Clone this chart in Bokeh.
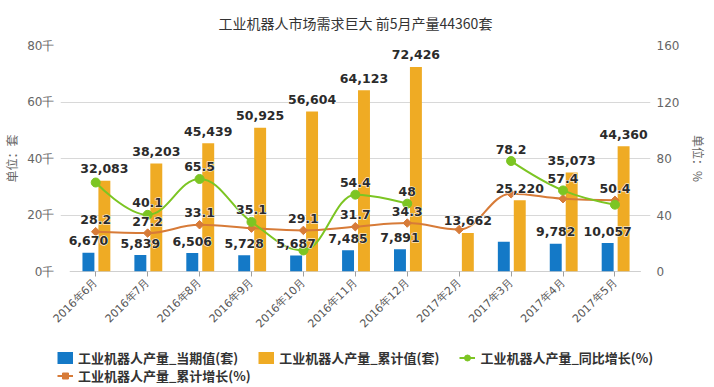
import math
from bokeh.plotting import figure
from bokeh.models import (Range1d, LinearAxis, FixedTicker, ColumnDataSource,
                          Legend, LegendItem)
from bokeh.core.properties import value
from bokeh.embed import file_html
from bokeh.resources import INLINE

# ---------------- data ----------------
months = ["2016年6月", "2016年7月", "2016年8月", "2016年9月", "2016年10月",
          "2016年11月", "2016年12月", "2017年2月", "2017年3月", "2017年4月", "2017年5月"]
current = [6670, 5839, 6506, 5728, 5687, 7485, 7891, None, 10500, 9782, 10057]
cumulative = [32083, 38203, 45439, 50925, 56604, 64123, 72426, 13662, 25220, 35073, 44360]
yoy = [63.0, 40.1, 65.5, 35.1, 14.9, 54.4, 48.0, None, 78.2, 57.4, 47.3]
cum_growth = [28.2, 27.2, 33.1, 30.7, 29.1, 31.7, 34.3, 29.7, 55.0, 51.5, 50.4]
# data labels that are visible in the original (others hidden by overlap)
show_current = [1, 1, 1, 1, 1, 1, 1, 0, 0, 1, 1]
show_cumulative = [1, 1, 1, 1, 1, 1, 1, 1, 1, 1, 1]
show_yoy = [0, 1, 1, 1, 0, 1, 1, 0, 1, 1, 0]
show_cum_growth = [1, 1, 1, 0, 1, 1, 1, 0, 0, 0, 1]

left_ticks = [0, 20000, 40000, 60000, 80000]
left_tick_labels = ["0千", "20千", "40千", "60千", "80千"]
right_ticks = [0, 40, 80, 120, 160]

names = ["工业机器人产量_当期值(套)", "工业机器人产量_累计值(套)",
         "工业机器人产量_同比增长(%)", "工业机器人产量_累计增长(%)"]

BLUE = "#1479c7"
GOLD = "#efab24"
GREEN = "#7cc523"
ORANGE = "#d77b38"
LABEL_FONT = value("DejaVu Sans")
CJK = "Noto Sans CJK SC"

n = len(months)
xs = list(range(n))
off_blue, off_gold, bar_w = -0.14, 0.167, 0.23

W = 710
p = figure(width=W, height=343, output_backend="svg", toolbar_location=None,
           x_range=Range1d(-0.678, 10.685), y_range=Range1d(0, 80000),
           title="工业机器人市场需求巨大 前5月产量44360套")
p.min_border_left = 58
p.min_border_right = 60
p.min_border_top = 45
p.min_border_bottom = 72
p.outline_line_color = None
p.extra_y_ranges = {"pct": Range1d(0, 160)}

p.title.align = "center"
p.title.vertical_align = "top"
p.title.text_font = CJK
p.title.text_font_size = "14px"
p.title.text_font_style = "normal"
p.title.text_color = "#333333"
p.title.standoff = 22

# x axis
xa = p.xaxis[0]
xa.ticker = FixedTicker(ticks=xs)
xa.major_label_overrides = {i: m for i, m in enumerate(months)}
xa.major_label_orientation = math.pi / 4
xa.major_label_text_font = "DejaVu Sans"
xa.major_label_text_font_size = "11px"
xa.major_label_text_color = "#555555"
xa.axis_line_color = None
xa.major_tick_in = 0
xa.major_tick_out = 5
xa.major_tick_line_color = "#a0a0a0"
xa.minor_tick_line_color = None
xa.major_label_standoff = 4
p.xgrid.visible = False

# left axis
ya = p.yaxis[0]
ya.ticker = FixedTicker(ticks=left_ticks)
ya.major_label_overrides = {t: l for t, l in zip(left_ticks, left_tick_labels)}
ya.axis_line_color = None
ya.major_tick_line_color = None
ya.minor_tick_line_color = None
ya.major_tick_out = 0
ya.major_tick_in = 0
ya.major_label_text_font = "DejaVu Sans"
ya.major_label_text_font_size = "12px"
ya.major_label_text_color = "#666666"
ya.major_label_standoff = 6
ya.axis_label = "单位：套"
ya.axis_label_text_font = CJK
ya.axis_label_text_font_size = "12px"
ya.axis_label_text_font_style = "normal"
ya.axis_label_text_color = "#666666"
ya.axis_label_standoff = 4
p.ygrid.ticker = FixedTicker(ticks=left_ticks)
p.ygrid.grid_line_color = "#d8d8d8"

# right axis
ra = LinearAxis(y_range_name="pct", ticker=FixedTicker(ticks=right_ticks))
ra.axis_line_color = None
ra.major_tick_line_color = None
ra.minor_tick_line_color = None
ra.major_tick_out = 0
ra.major_tick_in = 0
ra.major_label_text_font = "DejaVu Sans"
ra.major_label_text_font_size = "12px"
ra.major_label_text_color = "#666666"
ra.major_label_standoff = 6
ra.axis_label = "单位：%"
ra.axis_label_text_font = CJK
ra.axis_label_text_font_size = "12px"
ra.axis_label_text_font_style = "normal"
ra.axis_label_text_color = "#666666"
ra.axis_label_standoff = 8
p.add_layout(ra, "right")

# x-axis baseline over the category span
p.segment(x0=[xs[0] - 0.5], y0=[0], x1=[xs[-1] + 0.5], y1=[0],
          line_color="#a0a0a0", line_width=1)

# bars
cur_x = [x + off_blue for x, v in zip(xs, current) if v is not None]
cur_v = [v for v in current if v is not None]
p.vbar(x=cur_x, top=cur_v, width=bar_w, bottom=0, fill_color=BLUE, line_color=None)
gold_x = [x + off_gold for x in xs]
p.vbar(x=gold_x, top=cumulative, width=bar_w, bottom=0, fill_color=GOLD, line_color=None)


def spline(xv, yv, smoothing=1.5):
    runs, run = [], []
    for x, y in zip(xv, yv):
        if y is None:
            if run:
                runs.append(run)
            run = []
        else:
            run.append((x, y))
    if run:
        runs.append(run)
    out = dict(x0=[], y0=[], x1=[], y1=[], cx0=[], cy0=[], cx1=[], cy1=[])
    d = smoothing + 1
    for run in runs:
        m = len(run)
        lc, rc = [None] * m, [None] * m
        for i, (px, py) in enumerate(run):
            if 0 < i < m - 1:
                lx, ly = run[i - 1]
                nx, ny = run[i + 1]
                lcx, lcy = (smoothing * px + lx) / d, (smoothing * py + ly) / d
                rcx, rcy = (smoothing * px + nx) / d, (smoothing * py + ny) / d
                if rcx != lcx:
                    corr = (rcy - lcy) * (rcx - px) / (rcx - lcx) + py - rcy
                    lcy += corr
                    rcy += corr
                if lcy > ly and lcy > py:
                    lcy = max(ly, py); rcy = 2 * py - lcy
                elif lcy < ly and lcy < py:
                    lcy = min(ly, py); rcy = 2 * py - lcy
                if rcy > ny and rcy > py:
                    rcy = max(ny, py); lcy = 2 * py - rcy
                elif rcy < ny and rcy < py:
                    rcy = min(ny, py); lcy = 2 * py - rcy
                lc[i], rc[i] = (lcx, lcy), (rcx, rcy)
            else:
                lc[i], rc[i] = (px, py), (px, py)
        for i in range(1, m):
            out["x0"].append(run[i - 1][0]); out["y0"].append(run[i - 1][1])
            out["x1"].append(run[i][0]); out["y1"].append(run[i][1])
            out["cx0"].append(rc[i - 1][0]); out["cy0"].append(rc[i - 1][1])
            out["cx1"].append(lc[i][0]); out["cy1"].append(lc[i][1])
    return out


# cumulative growth (orange spline, diamonds)
p.bezier(source=ColumnDataSource(spline(xs, cum_growth)), x0="x0", y0="y0", x1="x1", y1="y1",
         cx0="cx0", cy0="cy0", cx1="cx1", cy1="cy1", line_color=ORANGE, line_width=2,
         y_range_name="pct")
p.scatter(x=xs, y=cum_growth, marker="square", angle=math.pi / 4, size=6,
          fill_color=ORANGE, line_color=ORANGE, y_range_name="pct")
# yoy (green spline, circles)
p.bezier(source=ColumnDataSource(spline(xs, yoy)), x0="x0", y0="y0", x1="x1", y1="y1",
         cx0="cx0", cy0="cy0", cx1="cx1", cy1="cy1", line_color=GREEN, line_width=2,
         y_range_name="pct")
gx = [x for x, v in zip(xs, yoy) if v is not None]
gv = [v for v in yoy if v is not None]
p.scatter(x=gx, y=gv, marker="circle", size=9, fill_color=GREEN, line_color=GREEN,
          y_range_name="pct")


# data labels: white halo layer, then dark text on top
def labels(xv, vals, show, fmt, yname=None):
    lx, ly, lt = [], [], []
    for x, v, s in zip(xv, vals, show):
        if v is not None and s:
            lx.append(x); ly.append(v); lt.append(fmt(v))
    kw = dict(y_range_name=yname) if yname else {}
    return dict(x=lx, y=ly, text=lt, text_font=LABEL_FONT, text_font_style="bold",
                text_font_size="12.5px", text_align="center", text_baseline="middle",
                y_offset=-12, **kw)


label_sets = [
    labels([x + off_blue for x in xs], current, show_current, lambda v: f"{v:,}"),
    labels(gold_x, cumulative, show_cumulative, lambda v: f"{v:,}"),
    labels(xs, yoy, show_yoy, lambda v: f"{v:g}", "pct"),
    labels(xs, cum_growth, show_cum_growth, lambda v: f"{v:g}", "pct"),
]
for c in label_sets:
    p.text(text_color="white", text_outline_color="white", **c)
for c in label_sets:
    p.text(text_color="#2b2b2b", **c)

# ---------------- legend strip (separate root, full-width frame) ----------------
lf = figure(width=W, height=42, output_backend="svg", toolbar_location=None,
            x_range=Range1d(0, 1), y_range=Range1d(0, 1),
            x_axis_location=None, y_axis_location=None, min_border=0)
lf.outline_line_color = None
lf.grid.visible = False
# swatch renderers: one point each, placed outside the visible range
OUT = dict(x=[-5], y=[-5])
sw_blue = lf.line(line_color=BLUE, line_width=12, **OUT)
sw_gold = lf.line(line_color=GOLD, line_width=12, **OUT)
sw_gr_l = lf.line(line_color=GREEN, line_width=2, **OUT)
sw_gr_m = lf.scatter(marker="circle", size=8, fill_color=GREEN, line_color=GREEN, **OUT)
sw_or_l = lf.line(line_color=ORANGE, line_width=2, **OUT)
sw_or_m = lf.scatter(marker="square", angle=math.pi / 4, size=6,
                     fill_color=ORANGE, line_color=ORANGE, **OUT)


def make_legend(items, loc):
    lg = Legend(items=items, location=loc, orientation="horizontal",
                glyph_width=16, glyph_height=15, label_height=15, label_standoff=5,
                label_width=160, spacing=20,
                label_text_font=CJK, label_text_font_size="13px",
                label_text_font_style="bold", label_text_color="#333333",
                padding=0, margin=0, border_line_color=None,
                background_fill_alpha=0)
    lf.add_layout(lg, "center")


make_legend([LegendItem(label=names[0], renderers=[sw_blue]),
             LegendItem(label=names[1], renderers=[sw_gold]),
             LegendItem(label=names[2], renderers=[sw_gr_l, sw_gr_m])], (57, 18))
make_legend([LegendItem(label=names[3], renderers=[sw_or_l, sw_or_m])], (57, 0))

open("out.html", "w").write(file_html([p, lf], INLINE))
